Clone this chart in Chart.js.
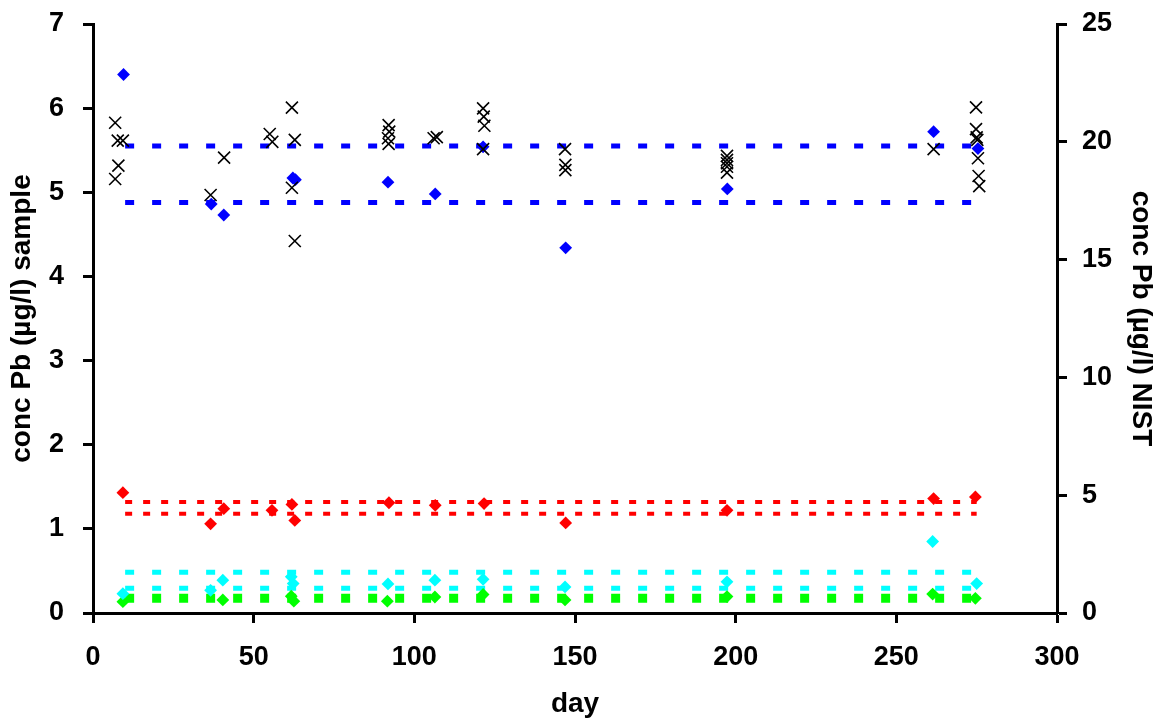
<!DOCTYPE html>
<html lang="en">
<head>
    <meta charset="UTF-8">
    <script src="https://cdn.jsdelivr.net/npm/chart.js"></script>
    <title>conc Pb</title>
    <style>
        html, body { margin: 0; padding: 0; background: #fff; }
        .chart-wrapper { position: relative; width: 1159px; height: 721px; }
    </style>
</head>
<body>
    <div class="chart-wrapper">
        <canvas id="myChart"></canvas>
    </div>

    <script>
        // sample (left axis, ug/l)
        const sampleDays   = [9.5, 36.8, 40.7, 62.2, 63, 91.8, 106.5, 121.4, 147.1, 197.4, 261.6, 275.4];
        const sampleValues = [6.40, 4.86, 4.73, 5.17, 5.15, 5.12, 4.98, 5.54, 4.34, 5.04, 5.72, 5.52];

        // NIST (right axis, ug/l)
        const nistDays = [6.9, 7.7, 9.3, 7.9, 6.9, 40.8, 55, 55.8, 61.9, 62.8, 36.6, 61.9, 62.8,
                          92, 92.2, 91.8, 92, 106, 107, 121.4, 121.6, 121.8, 121.4, 146.9, 147, 147,
                          197.3, 197.3, 197.3, 197.3, 197.3, 261.6, 274.8, 274.8, 275, 275.2, 275.4, 275.6, 275.8];
        const nistValues = [20.81, 20.05, 20.05, 18.99, 18.42, 19.33, 20.33, 20.0, 21.45, 20.08, 17.74, 18.05, 15.79,
                            20.71, 20.43, 20.15, 19.91, 20.15, 20.2, 21.42, 21.07, 20.68, 19.69, 19.69, 19.02, 18.8,
                            19.40, 19.23, 19.09, 18.94, 18.69, 19.69, 21.46, 20.54, 20.19, 20.08, 19.30, 18.55, 18.12];

        const redDays   = [9.3, 36.6, 40.7, 55.7, 61.9, 62.8, 92.1, 106.5, 121.7, 147.1, 197.3, 261.6, 274.6];
        const redValues = [1.43, 1.06, 1.24, 1.22, 1.29, 1.10, 1.31, 1.28, 1.30, 1.07, 1.22, 1.36, 1.38];

        const cyanDays   = [9.3, 36.6, 40.4, 61.7, 62.3, 91.8, 106.4, 121.4, 146.9, 197.3, 261.3, 275];
        const cyanValues = [0.23, 0.27, 0.39, 0.43, 0.35, 0.345, 0.39, 0.40, 0.31, 0.37, 0.85, 0.35];

        const greenDays   = [9.3, 40.4, 61.7, 62.5, 91.6, 106.4, 121.4, 146.9, 197.3, 261.3, 274.6];
        const greenValues = [0.135, 0.155, 0.20, 0.14, 0.14, 0.19, 0.22, 0.155, 0.195, 0.225, 0.175];

        // limit lines (left axis)
        const limitDays  = [10, 275];
        const blueLimits = [5.55, 4.88];
        const redLimits  = [1.32, 1.18];
        const cyanLimits = [0.484, 0.294];
        const greenLimits = [0.175];

        const xTicks = [0, 50, 100, 150, 200, 250, 300];

        const pts = (xs, ys) => xs.map((x, i) => ({ x: x, y: ys[i] }));
        const flat = (v) => limitDays.map(d => ({ x: d, y: v }));

        function limitSet(v, color, width, dash) {
            return {
                type: 'line',
                data: flat(v),
                yAxisID: 'y',
                borderColor: color,
                borderWidth: width,
                borderDash: dash,
                borderCapStyle: 'butt',
                pointRadius: 0,
                fill: false,
                order: 10
            };
        }

        function markerSet(data, color, axis) {
            return {
                type: 'scatter',
                data: data,
                yAxisID: axis,
                pointStyle: 'rectRot',
                pointRadius: 6.4,
                backgroundColor: color,
                borderColor: color,
                borderWidth: 0,
                order: 2
            };
        }

        const datasets = [];
        blueLimits.forEach(v => datasets.push(limitSet(v, '#0000ff', 5, [9, 18])));
        redLimits.forEach(v => datasets.push(limitSet(v, '#ff0000', 4, [7, 11])));
        cyanLimits.forEach(v => datasets.push(limitSet(v, '#00ffff', 5, [9, 18])));
        greenLimits.forEach(v => datasets.push(limitSet(v, '#00ff00', 9, [9, 18])));

        datasets.push(markerSet(pts(sampleDays, sampleValues), '#0000ff', 'y'));
        datasets.push(markerSet(pts(redDays, redValues), '#ff0000', 'y'));
        datasets.push(markerSet(pts(cyanDays, cyanValues), '#00ffff', 'y'));
        datasets.push(markerSet(pts(greenDays, greenValues), '#00ff00', 'y'));
        datasets.push({
            type: 'scatter',
            data: pts(nistDays, nistValues),
            yAxisID: 'y2',
            pointStyle: 'crossRot',
            pointRadius: 8.5,
            borderColor: '#000',
            borderWidth: 1.6,
            order: 1
        });

        const tickFont = { family: '"Liberation Sans", Arial, sans-serif', size: 27, weight: 'bold' };
        const titleFont = { family: '"Liberation Sans", Arial, sans-serif', size: 28, weight: 'bold' };

        const axisGrid = {
            drawOnChartArea: false,
            drawTicks: true,
            tickLength: 10,
            tickWidth: 3,
            tickColor: '#000'
        };
        const axisBorder = { display: true, color: '#000', width: 3 };

        // fixed axis box sizes so the plot area sits where the original has it
        function fitY(width) {
            return (s) => { s.width = width; s.paddingTop = 0; s.paddingBottom = 0; };
        }

        const ctx = document.getElementById('myChart').getContext('2d');
        new Chart(ctx, {
            type: 'scatter',
            data: { datasets: datasets },
            options: {
                responsive: true,
                maintainAspectRatio: false,
                animation: false,
                layout: { padding: { top: 24, left: 0, right: 0, bottom: 0 } },
                plugins: {
                    legend: { display: false },
                    tooltip: { enabled: false }
                },
                scales: {
                    x: {
                        type: 'linear',
                        position: 'bottom',
                        min: 0,
                        max: 300,
                        afterBuildTicks: (s) => { s.ticks = xTicks.map(v => ({ value: v })); },
                        afterFit: (s) => { s.height = 108; s.paddingLeft = 0; s.paddingRight = 0; },
                        grid: axisGrid,
                        border: axisBorder,
                        ticks: { color: '#000', font: tickFont, padding: 18, maxRotation: 0 },
                        title: { display: true, text: 'day', color: '#000', font: titleFont, padding: { top: 0, bottom: 0 } }
                    },
                    y: {
                        type: 'linear',
                        position: 'left',
                        min: 0,
                        max: 7,
                        ticks: { stepSize: 1, color: '#000', font: tickFont, padding: 19 },
                        afterFit: fitY(93),
                        grid: axisGrid,
                        border: axisBorder,
                        title: { display: true, text: 'conc Pb (µg/l) sample', color: '#000', font: titleFont, padding: { top: 5, bottom: 0 } }
                    },
                    y2: {
                        type: 'linear',
                        position: 'right',
                        min: 0,
                        max: 25,
                        ticks: { stepSize: 5, color: '#000', font: tickFont, padding: 15 },
                        afterFit: fitY(102),
                        grid: axisGrid,
                        border: axisBorder,
                        title: { display: true, text: 'conc Pb (µg/l) NIST', color: '#000', font: titleFont, padding: { top: 1, bottom: 0 } }
                    }
                }
            }
        });
    </script>
</body>
</html>
